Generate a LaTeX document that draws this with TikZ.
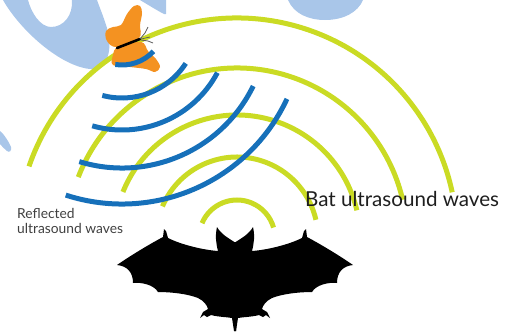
\documentclass[tikz,border=0pt]{standalone}
\usepackage{fontspec}
\setmainfont{Lato}
\definecolor{wave}{RGB}{202,219,36}
\definecolor{echo}{RGB}{22,112,186}
\definecolor{hazeblue}{RGB}{169,198,233}
\definecolor{wing}{RGB}{244,146,33}
\definecolor{labelink}{RGB}{30,30,30}
% right half of the bat silhouette, closed along its centre line
\newcommand{\bathalf}{%
  (234,243) .. controls (242,238) and (249,234) .. (253,227)
  .. controls (255,236) and (254,243) .. (252,251)
  .. controls (266,250) and (288,245) .. (302,238)
  -- (304,231) -- (306,229) -- (307,237)
  .. controls (322,245) and (340,256) .. (353,265)
  .. controls (343,266) and (337,272) .. (337,283)
  .. controls (328,282) and (316,285) .. (312,292)
  .. controls (298,292) and (282,294) .. (272,298)
  .. controls (266,301) and (263,305) .. (262,309)
  -- (267,312) -- (270,318) -- (266,315) -- (263,317) -- (259,315)
  .. controls (252,317) and (243,317) .. (238,318)
  -- (236,331) -- (234,331) -- cycle}
\begin{document}
\begin{tikzpicture}[x=1pt,y=1pt,yscale=-1,
  yarc/.style={draw=wave, line width=5pt},
  barc/.style={draw=echo, line width=5pt},
  bgshape/.style={fill=hazeblue},
  batfill/.style={fill=black},
  wingfill/.style={fill=wing}]
\useasboundingbox (0,0) rectangle (510,333);

% pale background swooshes
\fill[bgshape] (3,0) .. controls (20,30) and (60,66) .. (90,69)
  .. controls (108,70) and (113,50) .. (107,28)
  .. controls (103,15) and (99,6) .. (97,0) -- (72,0)
  .. controls (73,15) and (64,27) .. (51,27)
  .. controls (40,27) and (31,12) .. (28,0) -- cycle;
\fill[bgshape] (140,0) .. controls (150,6) and (158,11) .. (164,14) -- (166,14) -- (166,0) -- cycle;
\fill[bgshape] (288,0) .. controls (294,14) and (309,20) .. (325,20)
  .. controls (344,20) and (358,12) .. (363,0) -- cycle;
\fill[bgshape] (0,131) .. controls (4,134) and (9,142) .. (11,147)
  .. controls (12,151) and (9,153) .. (7,151)
  .. controls (4,149) and (2,146) .. (0,144) -- cycle;

% outgoing ultrasound from the bat
\coordinate (batsrc) at (237,238);
\foreach \r/\a/\b in {38/203/344, 81/203/347, 123/202/347, 170/201/347, 220/199/348}
  \draw[yarc] (batsrc) ++(\a:\r) arc[start angle=\a, end angle=\b, radius=\r];

% echoes from the moth
\coordinate (mothsrc) at (122,22);
\foreach \r/\a/\b in {76/105/33, 108/106/28, 146/107/26, 182/108/25}
  \draw[barc] (mothsrc) ++(\a:\r) arc[start angle=\a, end angle=\b, radius=\r];

% moth
\fill[wingfill] plot[smooth cycle, tension=0.6] coordinates
  {(117,47) (107,41) (106,31) (113,27) (121,25) (127,14) (134,6) (140,6) (142,13) (140,25) (139,38)};
\fill[wingfill] plot[smooth cycle, tension=0.6] coordinates
  {(118,47) (113,55) (113,65) (130,67) (146,69) (155,72) (160,67) (156,59) (148,51) (141,42)};
\draw[black, line width=2.6pt, line cap=round] (117,48) -- (140,39);
\draw[black!65, line width=0.8pt] (140,39) -- (145,33) -- (148,27);
\draw[black!65, line width=0.8pt] (141,40) -- (148,41) -- (153,43);
\draw[black!65, line width=0.7pt] (141,39) -- (150,37);
\draw[barc] (mothsrc) ++(99:43) arc[start angle=99, end angle=43, radius=43];

% bat
\fill[batfill] \bathalf;
\begin{scope}[xshift=470pt, xscale=-1]
  \fill[batfill] \bathalf;
\end{scope}

% labels
\node[font=\fontsize{20.6}{24}\selectfont, text=labelink, anchor=base west, inner sep=0] (batlabel) at (305,206) {Bat ultrasound waves};
\node[font=\fontsize{13.8}{16}\selectfont, text=labelink!85, anchor=base west, inner sep=0] (echolabelA) at (17,218) {Reflected};
\node[font=\fontsize{13.8}{16}\selectfont, text=labelink!85, anchor=base west, inner sep=0] (echolabelB) at (17,233) {ultrasound waves};
\end{tikzpicture}
\end{document}
